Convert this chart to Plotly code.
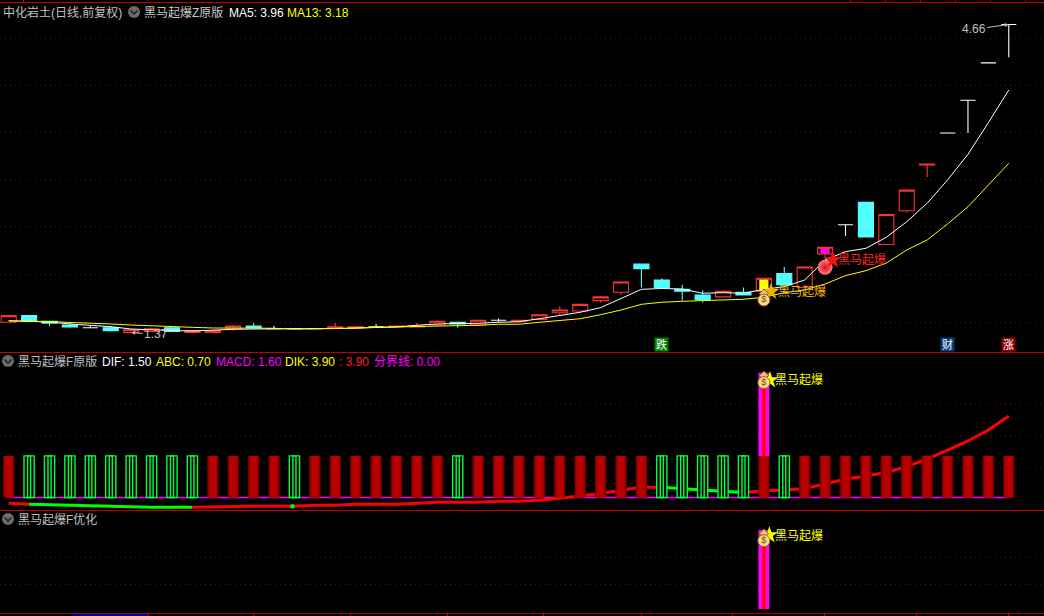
import plotly.graph_objects as go

W, H = 1044, 616
FONT = "Liberation Sans, Noto Sans CJK SC, sans-serif"

# ---- price pane data
opens = [1.48, 1.55, 1.49, 1.45, 1.42, 1.42, 1.37, 1.38, 1.42, 1.37,
         1.37, 1.41, 1.44, 1.41, 1.41, 1.41, 1.42, 1.42, 1.43, 1.43,
         1.43, 1.45, 1.48, 1.45, 1.50, 1.49, 1.51, 1.58, 1.60, 1.71,
         1.80, 2.10, 1.93, 1.83, 1.77, 1.75, 1.80, 1.81, 2.00, 1.85,
         2.21, 2.52, 2.76, 2.31, 2.67, 3.16, 3.50, 3.85, 4.25, 4.66]
closes = [1.55, 1.49, 1.47, 1.43, 1.42, 1.39, 1.40, 1.41, 1.38, 1.39,
          1.39, 1.44, 1.42, 1.41, 1.41, 1.41, 1.43, 1.43, 1.43, 1.44,
          1.44, 1.49, 1.46, 1.50, 1.50, 1.50, 1.56, 1.61, 1.67, 1.75,
          1.91, 2.05, 1.85, 1.81, 1.72, 1.81, 1.77, 1.95, 1.88, 2.07,
          2.28, 2.52, 2.39, 2.63, 2.89, 3.17, 3.50, 3.85, 4.25, 4.66]
highs = [1.55, 1.56, 1.49, 1.47, 1.45, 1.44, 1.40, 1.42, 1.42, 1.39,
         1.39, 1.45, 1.47, 1.44, 1.41, 1.41, 1.47, 1.43, 1.46, 1.44,
         1.47, 1.50, 1.48, 1.51, 1.52, 1.50, 1.56, 1.65, 1.67, 1.76,
         1.92, 2.10, 1.95, 1.88, 1.82, 1.82, 1.85, 1.95, 2.07, 2.07,
         2.28, 2.52, 2.76, 2.63, 2.89, 3.17, 3.50, 3.85, 4.25, 4.66]
lows = [1.48, 1.48, 1.44, 1.42, 1.42, 1.38, 1.37, 1.38, 1.38, 1.37,
        1.37, 1.39, 1.42, 1.41, 1.41, 1.41, 1.42, 1.42, 1.43, 1.43,
        1.43, 1.44, 1.42, 1.44, 1.48, 1.47, 1.51, 1.56, 1.60, 1.69,
        1.77, 1.85, 1.85, 1.71, 1.69, 1.75, 1.77, 1.81, 1.88, 1.85,
        2.15, 2.40, 2.39, 2.31, 2.65, 3.03, 3.50, 3.50, 4.25, 4.31]
ma5 = [1.496, 1.493, 1.482, 1.461, 1.450, 1.432, 1.407, 1.397, 1.391, 1.386,
       1.397, 1.404, 1.407, 1.407, 1.407, 1.407, 1.413, 1.418, 1.427, 1.429,
       1.447, 1.461, 1.466, 1.468, 1.479, 1.485, 1.517, 1.554, 1.586, 1.635,
       1.735, 1.831, 1.840, 1.834, 1.789, 1.795, 1.789, 1.831, 1.859, 1.931,
       2.144, 2.233, 2.269, 2.387, 2.553, 2.750, 2.999, 3.273, 3.611, 3.960]
ma13 = [1.493, 1.493, 1.487, 1.477, 1.471, 1.461, 1.450, 1.439, 1.429, 1.425,
        1.418, 1.418, 1.418, 1.415, 1.407, 1.407, 1.413, 1.415, 1.425, 1.429,
        1.429, 1.436, 1.436, 1.447, 1.458, 1.458, 1.479, 1.500, 1.517, 1.560,
        1.610, 1.671, 1.693, 1.703, 1.710, 1.725, 1.725, 1.746, 1.795, 1.824,
        1.888, 1.977, 2.030, 2.112, 2.251, 2.358, 2.529, 2.713, 2.945, 3.177]
price_grid = [4.515, 4.013, 3.501, 2.999, 2.497, 1.992, 1.479]

# ---- indicator pane data
macd_line = [-0.181, -0.212, -0.228, -0.244, -0.275, -0.297, -0.306, -0.306, -0.306, -0.306,
             -0.306, -0.284, -0.275, -0.275, -0.275, -0.244, -0.244, -0.212, -0.212, -0.212,
             -0.181, -0.150, -0.150, -0.150, -0.119, -0.119, -0.088, -0.031, 0.047, 0.125,
             0.219, 0.319, 0.319, 0.288, 0.234, 0.197, 0.156, 0.209, 0.234, 0.281,
             0.422, 0.578, 0.672, 0.781, 0.969, 1.203, 1.484, 1.766, 2.109, 2.547]
line_green_from_to = [(1, 9), (32, 36)]
bar_heights = [1.30, 1.30, 1.30, 1.30, 1.30, 1.30, 1.30, 1.30, 1.30, 1.30,
               1.30, 1.30, 1.30, 1.30, 1.30, 1.30, 1.30, 1.30, 1.30, 1.30,
               1.30, 1.30, 1.30, 1.30, 1.30, 1.30, 1.30, 1.30, 1.30, 1.30,
               1.30, 1.30, 1.30, 1.30, 1.30, 1.30, 1.30, 1.30, 1.30, 1.30,
               1.30, 1.30, 1.30, 1.30, 1.30, 1.30, 1.30, 1.30, 1.30, 1.30]
green_bars = [1, 2, 3, 4, 5, 6, 7, 8, 9, 14, 22, 32, 33, 34, 35, 36, 38]
boundary_line = [0.0, 0.0, 0.0, 0.0, 0.0, 0.0, 0.0, 0.0, 0.0, 0.0,
                 0.0, 0.0, 0.0, 0.0, 0.0, 0.0, 0.0, 0.0, 0.0, 0.0,
                 0.0, 0.0, 0.0, 0.0, 0.0, 0.0, 0.0, 0.0, 0.0, 0.0,
                 0.0, 0.0, 0.0, 0.0, 0.0, 0.0, 0.0, 0.0, 0.0, 0.0,
                 0.0, 0.0, 0.0, 0.0, 0.0, 0.0, 0.0, 0.0, 0.0, 0.0]
signal_day = 37
signal_value = 3.90
mid_grid = [0.953, 1.953, 2.953]
low_grid = [1.22, 2.55]

n = len(opens)
idx = list(range(n))

def pick(seq, mask):
    return [v if m else None for v, m in zip(seq, mask)]

def xf(px):
    return px / W

def yf(py):
    return 1 - py / H

# pixel calibration of the axes
X_RANGE = [-8.7 / 20.41, (W - 8.7) / 20.41]
fig = go.Figure()

up = [c > o for o, c in zip(opens, closes)]
down = [c < o for o, c in zip(opens, closes)]
flat = [c == o for o, c in zip(opens, closes)]
RED, CYAN, WHITE = "#ff3232", "#54ffff", "#ffffff"


def candle(mask, colour, fill):
    side = dict(line=dict(color=colour, width=1.1), fillcolor=fill)
    fig.add_trace(go.Candlestick(
        x=idx, open=pick(opens, mask), high=pick(highs, mask), low=pick(lows, mask),
        close=pick(closes, mask), increasing=side, decreasing=side,
        whiskerwidth=0, xaxis="x", yaxis="y", hoverinfo="skip"))


# highlighted candle fills
fig.add_trace(go.Bar(x=[37], base=[opens[37]], y=[closes[37] - opens[37]], width=0.45,
                     marker=dict(color="#ffff00", line_width=0), xaxis="x", yaxis="y"))
fig.add_trace(go.Bar(x=[40], base=[opens[40]], y=[closes[40] - opens[40]], width=0.45,
                     marker=dict(color="#ff00ff", line_width=0), xaxis="x", yaxis="y"))
candle(up, RED, "rgba(0,0,0,0)")
candle(down, CYAN, CYAN)
candle(flat, WHITE, WHITE)

fig.add_trace(go.Scatter(x=idx, y=ma5, mode="lines", line=dict(color="#ffffff", width=1),
                         xaxis="x", yaxis="y"))
fig.add_trace(go.Scatter(x=idx, y=ma13, mode="lines", line=dict(color="#ffff00", width=1),
                         xaxis="x", yaxis="y"))

# ---- indicator pane: line beneath the bars
in_green = [any(a <= i <= b for a, b in line_green_from_to) for i in idx]
in_red = [not g or any(i in (a, b) for a, b in line_green_from_to) for i, g in zip(idx, in_green)]
fig.add_trace(go.Scatter(x=idx, y=boundary_line, mode="lines",
                         line=dict(color="#ff00ff", width=1.4), xaxis="x", yaxis="y2"))
fig.add_trace(go.Scatter(x=idx, y=pick(macd_line, in_red), mode="lines",
                         line=dict(color="#ff0000", width=3), xaxis="x", yaxis="y2"))
fig.add_trace(go.Scatter(x=idx, y=pick(macd_line, in_green), mode="lines",
                         line=dict(color="#00ff00", width=3), xaxis="x", yaxis="y2"))

is_green = [i in green_bars for i in idx]
is_red = [not g for g in is_green]
for width, colour in ((0.56, "#700000"), (0.46, "#980000"), (0.32, "#b80000")):
    fig.add_trace(go.Bar(x=idx, y=pick(bar_heights, is_red), width=width,
                         marker=dict(color=colour, line_width=0), xaxis="x", yaxis="y3"))
for width, colour in ((0.5, "#000000"), (0.15, "rgba(0,0,0,0)")):
    fig.add_trace(go.Bar(x=idx, y=pick(bar_heights, is_green), width=width,
                         marker=dict(color=colour, line=dict(color="#00ff40", width=1.4)),
                         xaxis="x", yaxis="y3"))
fig.add_trace(go.Bar(x=[signal_day], base=[bar_heights[signal_day]],
                     y=[signal_value - bar_heights[signal_day]], width=0.539,
                     marker=dict(color="#ff00ff", line_width=0), xaxis="x", yaxis="y3"))
fig.add_trace(go.Bar(x=[signal_day], base=[bar_heights[signal_day]],
                     y=[signal_value - bar_heights[signal_day]], width=0.17,
                     marker=dict(color="#ff0000", line_width=0), xaxis="x", yaxis="y3"))
fig.add_trace(go.Scatter(x=[13.9], y=[macd_line[14]], mode="markers",
                         marker=dict(symbol="square", size=4, color="#00ff00"),
                         xaxis="x", yaxis="y3"))

# ---- lower pane
fig.add_trace(go.Bar(x=[signal_day], y=[signal_value], width=0.539,
                     marker=dict(color="#ff00ff", line_width=0), xaxis="x", yaxis="y4"))
fig.add_trace(go.Bar(x=[signal_day], y=[signal_value], width=0.17,
                     marker=dict(color="#ff0000", line_width=0), xaxis="x", yaxis="y4"))


def signal(star_x, star_y, star_colour, yaxis, text_colour, text_x, text_y, bag=None, neck=None):
    fig.add_trace(go.Scatter(x=[star_x], y=[star_y], mode="markers",
                             marker=dict(symbol="star", size=13, color=star_colour, line_width=0),
                             xaxis="x", yaxis=yaxis))
    if bag is not None:
        fig.add_trace(go.Scatter(x=[signal_day], y=[neck], mode="markers",
                                 marker=dict(symbol="diamond", size=7, color="#e8c468",
                                             line=dict(color="#8a5a20", width=1)),
                                 xaxis="x", yaxis=yaxis))
        fig.add_trace(go.Scatter(x=[signal_day], y=[bag], mode="markers+text", text=["$"],
                                 textposition="middle center",
                                 textfont=dict(size=9, color="#80401c", family=FONT),
                                 marker=dict(symbol="circle", size=12, color="#f6dc84",
                                             line=dict(color="#9a6a28", width=1)),
                                 xaxis="x", yaxis=yaxis))
    fig.add_annotation(xref="paper", yref="paper", x=xf(text_x - 2), y=yf(text_y), text="黑马起爆",
                       xanchor="left", yanchor="middle", showarrow=False,
                       font=dict(size=12, color=text_colour, family=FONT))


signal(37.35, 1.807, "#f0b000", "y", "#f0b400", 778, 291.5, bag=1.717, neck=1.786)
signal(signal_day + 0.30, 3.67, "#ffff00", "y3", "#ffff00", 775, 380, bag=3.59, neck=3.81)
signal(signal_day + 0.27, 3.65, "#ffff00", "y4", "#ffff00", 775, 535.5, bag=3.37, neck=3.73)
# ball and red star on the breakout day
fig.add_trace(go.Scatter(x=[40], y=[2.066], mode="markers",
                         marker=dict(symbol="circle", size=15, color="#ff8080",
                                     gradient=dict(type="radial", color="#d81020"), line_width=0),
                         xaxis="x", yaxis="y"))
signal(40.38, 2.144, "#ff1010", "y", "#ff2020", 838, 260)

# ---- axes
hidden = dict(showticklabels=False, ticks="", zeroline=False, showline=False, fixedrange=True)
grid = dict(showgrid=True, gridcolor="#8a0000", gridwidth=1, griddash="1px,4px")
layout = dict(
    width=W, height=H, margin=dict(l=0, r=0, t=0, b=0), autosize=False,
    paper_bgcolor="#000000", plot_bgcolor="#000000", showlegend=False, hovermode=False,
    barmode="overlay", boxgap=0.1, boxgroupgap=0.18, dragmode=False,
    xaxis=dict(range=X_RANGE, domain=[0, 1], showgrid=False, rangeslider=dict(visible=False),
               anchor="y", **hidden),
    yaxis=dict(domain=[yf(352), 1], range=[1.1616, 4.921], tickmode="array",
               tickvals=price_grid, **grid, **hidden),
    yaxis2=dict(domain=[yf(510), yf(353)], range=[-0.391, 4.516], tickmode="array",
                tickvals=mid_grid, **grid, **hidden),
    yaxis3=dict(domain=[yf(510), yf(353)], range=[-0.391, 4.516], overlaying="y2",
                showgrid=False, **hidden),
    yaxis4=dict(domain=[yf(613), yf(511)], range=[-0.197, 4.837], tickmode="array",
                tickvals=low_grid, **grid, **hidden),
)
fig.update_layout(**layout)

# ---- frame, ticks and icons
shapes = []
BORDER = "#c00000"


def hline(py, colour=BORDER, width=1):
    shapes.append(dict(type="line", xref="paper", yref="paper", x0=0, x1=1, y0=yf(py), y1=yf(py),
                       line=dict(color=colour, width=width)))


def tick(px, py0, py1):
    shapes.append(dict(type="line", xref="paper", yref="paper", x0=xf(px), x1=xf(px),
                       y0=yf(py0), y1=yf(py1), line=dict(color=BORDER, width=1)))


def icon(cx, cy):
    shapes.append(dict(type="circle", xref="paper", yref="paper", x0=xf(cx - 6), x1=xf(cx + 6),
                       y0=yf(cy - 6), y1=yf(cy + 6), fillcolor="#6c6c6c", line_width=0))
    shapes.append(dict(type="path", xref="paper", yref="paper",
                       path=f"M {xf(cx - 3.5)} {yf(cy - 1.5)} L {xf(cx)} {yf(cy + 2)} L {xf(cx + 3.5)} {yf(cy - 1.5)}",
                       line=dict(color="#1e1e1e", width=1.5)))


hline(2.5)
hline(352.5)
hline(510.5)
hline(613.5, "#a80000")
for px in (23, 850, 885, 920, 955, 990, 1025):
    tick(px + 0.5, 0, 2)
for px in (70.7, 148, 252.7, 350, 446.7, 543, 640.7, 732, 824, 916, 1008):
    tick(round(px) + 0.5, 613, 616)
shapes.append(dict(type="rect", xref="paper", yref="paper", x0=xf(71), x1=xf(148), y0=yf(614),
                   y1=yf(616), fillcolor="#000090", line_width=0))
icon(134, 12)
icon(8, 361)
icon(8, 519)
fig.update_layout(shapes=shapes)

# ---- header text
headers = [
    ("中化岩土(日线,前复权)", 3, 12, "#c0c0c0"),
    ("黑马起爆Z原版", 144, 12, "#c8c8c8"),
    ("MA5: 3.96", 228.5, 12, "#ffffff"),
    ("MA13: 3.18", 286.5, 12, "#ffff00"),
    ("黑马起爆F原版", 18, 361, "#c0c0c0"),
    ("DIF: 1.50", 102, 361, "#ffffff"),
    ("ABC: 0.70", 156, 361, "#ffff00"),
    ("MACD: 1.60", 215.5, 361, "#ff00ff"),
    ("DIK: 3.90", 284.5, 361, "#ffff00"),
    (": 3.90", 339, 361, "#ff2020"),
    ("分界线: 0.00", 374, 361, "#ff00ff"),
    ("黑马起爆F优化", 18, 519, "#c0c0c0"),
]
for text, px, py, colour in headers:
    fig.add_annotation(xref="paper", yref="paper", x=xf(px - 2), y=yf(py + 0.7), text=text, xanchor="left",
                       yanchor="middle", showarrow=False, font=dict(size=12, color=colour, family=FONT))

# ---- high / low labels
fig.add_annotation(xref="x", yref="y", x=49, y=4.66, text="4.66", ax=-35, ay=5, showarrow=True,
                   arrowhead=2, arrowsize=0.8, arrowwidth=1, arrowcolor="#c0c0c0",
                   font=dict(size=12, color="#c0c0c0", family=FONT))
fig.add_annotation(xref="x", yref="y", x=6, y=1.37, text="1.37", ax=25, ay=2, showarrow=True,
                   arrowhead=2, arrowsize=0.8, arrowwidth=1, arrowcolor="#c0c0c0",
                   font=dict(size=12, color="#c0c0c0", family=FONT))

# ---- news badges
for day, text, colour in ((32, "跌", "#008000"), (46, "财", "#0a3c78"), (49, "涨", "#8a0000")):
    fig.add_annotation(xref="x", yref="paper", x=day, y=yf(344.5), text=text, showarrow=False,
                       width=13, height=13, bgcolor=colour, borderpad=0,
                       font=dict(size=11, color="#ffffff", family=FONT))

fig.write_html("out.html", config=dict(displayModeBar=False),
               post_script="document.body.style.margin='0';document.body.style.background='#000';"
                           "document.documentElement.style.overflow='hidden';")
